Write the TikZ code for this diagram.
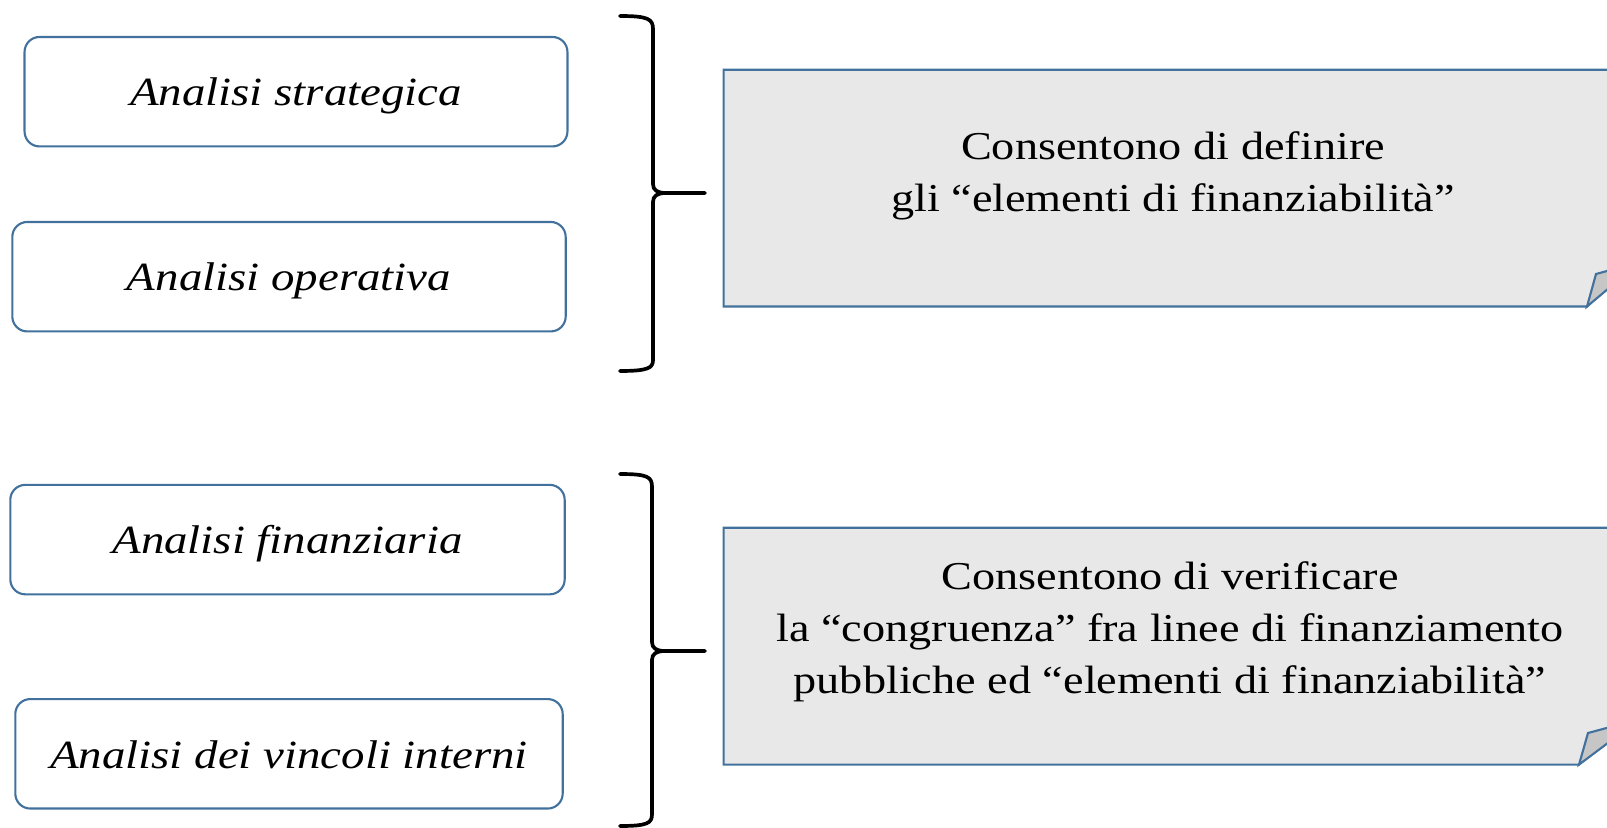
\documentclass[tikz,border=0pt]{standalone}
\usepackage{fontspec}
\setmainfont[FakeStretch=1.17]{Liberation Serif}
\usepackage{tikz}

\definecolor{boxblue}{RGB}{65,113,156}
\definecolor{notegray}{RGB}{232,232,232}
\definecolor{flapgray}{RGB}{198,198,198}

\begin{document}
\begin{tikzpicture}[x=0.02cm,y=-0.02cm,
		analisi/.style={draw=boxblue,line width=1.2pt,rounded corners=0.3cm,
			inner sep=0pt,minimum height=2.19cm,text height=0.75cm,text depth=0.18cm,
			font=\fontsize{22.8}{26}\selectfont\itshape},
		note/.style={draw=boxblue,line width=1.2pt,fill=notegray,line join=miter},
		flap/.style={draw=boxblue,line width=1.2pt,fill=flapgray},
		notetext/.style={align=center,font=\fontsize{22.5}{29.5}\selectfont},
		graffa/.style={line width=2.1pt,line cap=round,line join=round}]
		
		\useasboundingbox (0,0) rectangle (1607,828);
		\clip (0,0) rectangle (1607,828);
		
		%------------------------------------------------------
		\node[analisi,minimum width=10.86cm] (strat) at (296,91.7) {Analisi strategica};
		\node[analisi,minimum width=11.07cm] (oper) at (289,276.7) {Analisi operativa};
		%------------------------------------------------------
		
		
		%------------------------------------------------------
		\node[analisi,minimum width=11.09cm] (fin) at (287.5,539.6) {Analisi finanziaria};
		\node[analisi,minimum width=10.95cm] (vinc) at (289,753.8) {Analisi dei vincoli interni};
		%------------------------------------------------------
		
		
		%------------------------------------------------------
		\draw[graffa] (620,16) .. controls (648,16) and (653,19) .. (653,29) -- (653,184)
			.. controls (653,190) and (657,193) .. (666,193) -- (705,193);
		\draw[graffa] (666,193) .. controls (657,193) and (653,196) .. (653,202) -- (653,360)
			.. controls (653,368) and (648,371) .. (620,371);
		
		\draw[graffa] (620,474) .. controls (648,474) and (652,477) .. (652,487) -- (652,642)
			.. controls (652,648) and (656,651) .. (665,651) -- (705,651);
		\draw[graffa] (665,651) .. controls (656,651) and (652,654) .. (652,660) -- (652,814)
			.. controls (652,823) and (648,826) .. (620,826);
		%------------------------------------------------------
		
		
		%------------------------------------------------------
		\draw[note] (723.6,69.7) -- (1640,69.7) -- (1640,254) -- (1587,306.5) -- (723.6,306.5) -- cycle;
		\draw[flap] (1587,306.5) -- (1596,274) -- (1640,262) -- cycle;
		\node[notetext] (definire) at (1173,176) {Consentono di definire\\gli “elementi di finanziabilità”};
		
		\draw[note] (723.6,527.8) -- (1640,527.8) -- (1640,702) -- (1579,764.6) -- (723.6,764.6) -- cycle;
		\draw[flap] (1579,764.6) -- (1588,733) -- (1640,719) -- cycle;
		\node[notetext] (verificare) at (1170,632) {Consentono di verificare\\la “congruenza” fra linee di finanziamento\\pubbliche ed “elementi di finanziabilità”};
		%------------------------------------------------------
		
	\end{tikzpicture}
\end{document}
